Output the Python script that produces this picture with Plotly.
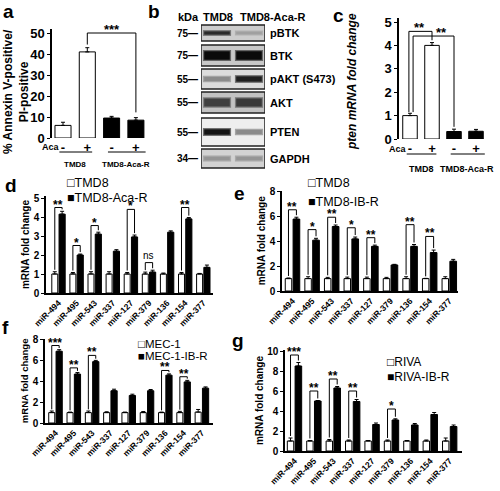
import plotly.graph_objects as go

# ---------------- data ----------------
# panel a: apoptosis
a_aca = ["-", "+", "-", "+"]
a_groups = ["TMD8", "TMD8-Aca-R"]
a_values = [6.0, 41.0, 9.5, 8.5]
a_errors = [1.5, 2.0, 0.8, 1.2]
a_sig = [(1, 3, 50.0, "***")]

# panel b: western blot (relative band intensity per lane)
blot_proteins = ["pBTK", "BTK", "pAKT (S473)", "AKT", "PTEN", "GAPDH"]
blot_kda = ["75", "75", "55", "55", "55", "34"]
blot_lanes = ["TMD8", "TMD8-Aca-R"]
band_tmd8 = [0.85, 1.0, 0.40, 0.75, 0.95, 0.35]
band_acar = [0.30, 1.0, 0.90, 0.78, 0.40, 0.35]

# panel c: pten mRNA
c_aca = ["-", "+", "-", "+"]
c_groups = ["TMD8", "TMD8-Aca-R"]
c_values = [1.0, 4.0, 0.32, 0.33]
c_errors = [0.10, 0.12, 0.10, 0.08]
c_sig = [(0, 1, 4.6, "**"), (0, 2, 4.4, "**")]

mirnas = ["miR-494", "miR-495", "miR-543", "miR-337", "miR-127",
          "miR-379", "miR-136", "miR-154", "miR-377"]

# panel d
d_names = ["TMD8", "TMD8-Aca-R"]
d_par = [1.0, 1.0, 1.0, 1.0, 1.0, 1.0, 1.0, 1.0, 1.0]
d_par_err = [0.12, 0.08, 0.12, 0.12, 0.08, 0.10, 0.05, 0.08, 0.03]
d_res = [4.15, 2.0, 3.1, 2.2, 2.95, 1.1, 3.2, 3.9, 1.35]
d_res_err = [0.15, 0.05, 0.10, 0.08, 0.10, 0.10, 0.07, 0.07, 0.12]
d_sig = [(0, 4.5, "**"), (1, 2.5, "*"), (2, 3.55, "*"), (4, 4.4, "*"),
         (5, 1.6, "ns"), (7, 4.5, "**")]

# panel e
e_names = ["TMD8", "TMD8-IB-R"]
e_par = [1.0, 1.0, 1.0, 1.0, 1.0, 1.0, 1.0, 1.0, 1.0]
e_par_err = [0.05, 0.15, 0.10, 0.12, 0.12, 0.10, 0.15, 0.02, 0.15]
e_res = [5.8, 4.1, 5.2, 4.2, 3.6, 2.1, 3.6, 3.1, 2.4]
e_res_err = [0.15, 0.15, 0.12, 0.15, 0.10, 0.05, 0.15, 0.20, 0.15]
e_sig = [(0, 6.55, "**"), (1, 4.95, "*"), (2, 5.95, "**"), (3, 5.1, "*"),
         (4, 4.3, "**"), (6, 5.35, "**"), (7, 4.4, "**")]

# panel f
f_names = ["MEC-1", "MEC-1-IB-R"]
f_par = [1.0, 1.0, 1.0, 1.0, 1.0, 1.0, 1.0, 1.0, 1.05]
f_par_err = [0.15, 0.05, 0.15, 0.08, 0.05, 0.10, 0.05, 0.12, 0.25]
f_res = [6.9, 4.7, 5.9, 3.1, 2.65, 3.1, 4.6, 3.95, 3.35]
f_res_err = [0.15, 0.15, 0.12, 0.15, 0.12, 0.12, 0.12, 0.15, 0.12]
f_sig = [(0, 7.45, "***"), (1, 5.3, "**"), (2, 6.5, "**"),
         (6, 5.05, "**"), (7, 4.45, "**")]

# panel g
g_names = ["RIVA", "RIVA-IB-R"]
g_par = [1.0, 1.0, 1.0, 1.0, 1.0, 1.0, 1.0, 1.0, 1.0]
g_par_err = [0.30, 0.05, 0.15, 0.10, 0.05, 0.10, 0.05, 0.10, 0.30]
g_res = [8.5, 5.0, 6.3, 4.95, 2.65, 3.1, 2.6, 3.65, 2.45]
g_res_err = [0.35, 0.05, 0.15, 0.20, 0.15, 0.12, 0.15, 0.20, 0.15]
g_sig = [(0, 9.6, "***"), (1, 6.0, "**"), (2, 7.2, "**"), (3, 6.0, "**"),
         (5, 4.2, "*")]

# ---------------- layout helpers ----------------
W, H = 500, 491
FONT = "Arial, 'Liberation Sans', sans-serif"


def fx(p):
    return p / W


def fy(p):
    return 1 - p / H


def axkey(n, k):
    return f"{k}axis" if n == 1 else f"{k}axis{n}"


def axref(n, k):
    return k if n == 1 else f"{k}{n}"


fig = go.Figure()
layout = dict(width=W, height=H, margin=dict(l=0, r=0, t=0, b=0),
              paper_bgcolor="white", plot_bgcolor="white", showlegend=False,
              barmode="overlay", font=dict(family=FONT, color="black"))
annotations = []
shapes = []


def txt(text, x, y, size, bold=True, xanchor="center", yanchor="middle", angle=0):
    annotations.append(dict(text=text, x=fx(x), y=fy(y), xref="paper",
                            yref="paper", showarrow=False, xanchor=xanchor,
                            yanchor=yanchor, textangle=angle,
                            font=dict(family=FONT, size=size, color="black",
                                      weight="bold" if bold else "normal")))


def yaxis_cfg(ybot, ppu, ymax, dtick, size, title=None, tsize=10, standoff=2):
    cfg = dict(domain=[fy(ybot), fy(ybot - ppu * ymax)], range=[0, ymax],
               tickmode="linear", tick0=0, dtick=dtick, showticklabels=True,
               showline=True, linecolor="black", linewidth=1.5,
               ticks="outside", ticklen=3, tickwidth=1, tickcolor="black",
               showgrid=False, zeroline=False, automargin=False,
               tickfont=dict(family=FONT, size=size, weight="bold", color="black"))
    if title:
        cfg["title"] = dict(text=title, standoff=standoff,
                            font=dict(family=FONT, size=tsize, weight="bold"))
    return cfg


def err(vals):
    return dict(type="data", array=vals, arrayminus=[0] * len(vals),
                symmetric=False, color="black", thickness=1, width=2)


def bracket(n, xl, xr, yl, yr, top, label, size):
    fig.add_trace(go.Scatter(x=[xl, xl, xr, xr], y=[yl, top, top, yr],
                             mode="lines", line=dict(color="black", width=1),
                             xaxis=axref(n, "x"), yaxis=axref(n, "y"),
                             cliponaxis=False, hoverinfo="skip"))
    if not label:
        return
    star = "*" in label
    annotations.append(dict(text=label, x=(xl + xr) / 2, y=top,
                            xref=axref(n, "x"), yref=axref(n, "y"),
                            showarrow=False, yanchor="bottom",
                            yshift=-6 if star else 0,
                            font=dict(family=FONT, size=size if star else size - 2,
                                      weight="bold" if star else "normal")))


# ---------------- panel a & c (simple 4-bar panels) ----------------
def simple_panel(n, values, errors, aca, groups, geom, ycfg):
    x0, x1, c0, sp, tsize, line_y, grp_y, gsize = geom
    xs = list(range(len(values)))
    cols = ["white", "white", "black", "black"]
    fig.add_trace(go.Bar(x=xs, y=values, width=0.66, xaxis=axref(n, "x"),
                         yaxis=axref(n, "y"),
                         marker=dict(color=cols, line=dict(color="black", width=1)),
                         error_y=err(errors)))
    layout[axkey(n, "x")] = dict(domain=[fx(x0), fx(x1)],
                                 range=[-(c0 - x0) / sp, (x1 - c0) / sp],
                                 showline=False, showgrid=False, zeroline=False,
                                 tickvals=xs, ticktext=aca, ticks="",
                                 anchor=axref(n, "y"), automargin=False,
                                 tickfont=dict(family=FONT, size=tsize, weight="bold"))
    ycfg["anchor"] = axref(n, "x")
    layout[axkey(n, "y")] = ycfg
    for gi, g in enumerate(groups):
        xa, xb = 2 * gi - 0.15, 2 * gi + 1.2 + 0.2 * gi
        shapes.append(dict(type="line", xref=axref(n, "x"), yref="paper",
                           x0=xa, x1=xb, y0=fy(line_y), y1=fy(line_y),
                           line=dict(color="black", width=1)))
        annotations.append(dict(text=g, x=2 * gi + 0.5 + 0.1 * gi, y=fy(grp_y),
                                xref=axref(n, "x"), yref="paper", showarrow=False,
                                font=dict(family=FONT, size=gsize, weight="bold")))


simple_panel(1, a_values, a_errors, a_aca, a_groups,
             (52, 150, 63, 24.3, 13, 152, 158, 8),
             yaxis_cfg(138, 2.1, 52, 10, 13))
for (i, j, top, lab) in a_sig:
    bracket(1, i, j, a_values[i] + a_errors[i] + 1.5, a_values[j] + a_errors[j] + 2.5,
            top, lab, 13)

simple_panel(3, c_values, c_errors, c_aca, c_groups,
             (399, 487, 410, 22, 13, 154, 162, 9),
             yaxis_cfg(139, 23.4, 5.15, 1, 13))
c_off = [-0.05, 0.14]
c_lab_x = [0.45, 1.45]
for k, (i, j, top, lab) in enumerate(c_sig):
    xl = i + c_off[k]
    bracket(3, xl, j, c_values[i] + c_errors[i] + 0.05, c_values[j] + c_errors[j] + 0.1,
            top, "", 13)
    annotations.append(dict(text=lab, x=c_lab_x[k], y=top,
                            xref="x3", yref="y3", showarrow=False, yanchor="bottom",
                            yshift=-6, font=dict(family=FONT, size=13, weight="bold")))

txt("% Annexin V-positive/<br>PI-positive", 16, 92, 12, angle=-90)
txt("Aca", 51, 147, 9)
txt("<i>pten mRNA fold change</i>", 352, 82, 12, angle=-90)
txt("Aca", 398, 149, 9)

# ---------------- panel b (western blot) ----------------
ROW_Y = [33, 55.5, 79, 102.5, 132, 158.5]
ROW_H = [16, 21, 20, 21, 28, 19]
BAND_T = [3.5, 8.5, 5.5, 9, 5.5, 5]
BG = ["#cdcdcd", "#c8c8c8", "#dcdcdc", "#c2c2c2", "#eeeeee", "#d2d2d2"]
layout["xaxis2"] = dict(domain=[fx(201), fx(265)], range=[-0.5, 1.5], visible=False,
                        anchor="y2")
layout["yaxis2"] = dict(domain=[fy(172), fy(0)], range=[172, 0], visible=False,
                        anchor="x2")
for r, prot in enumerate(blot_proteins):
    yc = ROW_Y[r]
    shapes.append(dict(type="rect", xref="x2", yref="y2", x0=-0.5, x1=1.5,
                       y0=yc - ROW_H[r] / 2, y1=yc + ROW_H[r] / 2, layer="below",
                       fillcolor=BG[r], line=dict(color="#222222", width=1.5)))
    for lane, inten in enumerate([band_tmd8[r], band_acar[r]]):
        g = int(225 - 215 * inten)
        th = BAND_T[r] * (0.55 + 0.45 * inten)
        halo = int((g + 190) / 2)
        fig.add_trace(go.Scatter(x=[lane - 0.44, lane + 0.44], y=[yc, yc], mode="lines",
                                 xaxis="x2", yaxis="y2", hoverinfo="skip",
                                 line=dict(color=f"rgb({halo},{halo},{halo})", width=th + 2.5)))
        fig.add_trace(go.Scatter(x=[lane - 0.40, lane + 0.40], y=[yc, yc], mode="lines",
                                 xaxis="x2", yaxis="y2", hoverinfo="skip",
                                 line=dict(color=f"rgb({g},{g},{g})", width=th)))
    annotations.append(dict(text=prot, x=1.5, y=yc, xref="x2", yref="y2",
                            xanchor="left", xshift=3, showarrow=False,
                            font=dict(family=FONT, size=11, weight="bold")))
    annotations.append(dict(text=blot_kda[r] + "\u2014", x=-0.5, y=yc, xref="x2",
                            yref="y2", xanchor="right", xshift=-1, showarrow=False,
                            font=dict(family=FONT, size=10, weight="bold")))
txt("kDa", 188, 17, 11)
txt(blot_lanes[0], 218, 17, 11)
txt(blot_lanes[1], 238, 17, 11, xanchor="left")

# ---------------- panels d-g (grouped miRNA panels) ----------------
W_OFF, W_W = -0.37, 0.33
B_OFF, B_W = 0.03, 0.34


def mir_panel(n, par, par_err, res, res_err, sig, names, geom, leg, tsize):
    x0, x1, ybot, ppu, ymax, dtick, c0, sp = geom
    xs = list(range(len(mirnas)))
    fig.add_trace(go.Bar(x=xs, y=par, offset=W_OFF, width=W_W, name=names[0],
                         xaxis=axref(n, "x"), yaxis=axref(n, "y"),
                         marker=dict(color="white", line=dict(color="black", width=1)),
                         error_y=err(par_err)))
    fig.add_trace(go.Bar(x=xs, y=res, offset=B_OFF, width=B_W, name=names[1],
                         xaxis=axref(n, "x"), yaxis=axref(n, "y"),
                         marker=dict(color="black", line=dict(color="black", width=1)),
                         error_y=err(res_err)))
    layout[axkey(n, "x")] = dict(domain=[fx(x0), fx(x1)],
                                 range=[-(c0 - x0) / sp, (x1 - c0) / sp],
                                 showline=True, linecolor="black", linewidth=1.5,
                                 showgrid=False, zeroline=False, tickvals=xs,
                                 ticktext=mirnas, ticks="", tickangle=-45,
                                 anchor=axref(n, "y"), automargin=False,
                                 tickfont=dict(family=FONT, size=8.5, weight="bold"))
    ycfg = yaxis_cfg(ybot, ppu, ymax, dtick, 10, title="mRNA fold change",
                     tsize=tsize, standoff=2)
    ycfg["anchor"] = axref(n, "x")
    layout[axkey(n, "y")] = ycfg
    pad = 0.02 * ymax
    for (i, top, lab) in sig:
        xl = i + W_OFF + W_W / 2
        xr = i + B_OFF + B_W / 2
        bracket(n, xl, xr, par[i] + par_err[i] + pad, res[i] + res_err[i] + pad,
                top, lab, 12)
    lx, ly1, ly2, lsize = leg
    txt("\u25a1" + names[0], lx, ly1, lsize, bold=False, xanchor="left")
    txt("\u25a0" + names[1], lx, ly2, lsize, bold=False, xanchor="left")


mir_panel(4, d_par, d_par_err, d_res, d_res_err, d_sig, d_names,
          (46, 213, 293, 19, 5.1, 1, 58.5, 18.1), (65, 183, 198, 12.5), 10)
mir_panel(5, e_par, e_par_err, e_res, e_res_err, e_sig, e_names,
          (282, 458, 291, 12.4, 8.1, 2, 292.5, 19.6), (306, 183, 202, 12.5), 10)
mir_panel(6, f_par, f_par_err, f_res, f_res_err, f_sig, f_names,
          (45, 213, 423, 10.4, 8.1, 2, 55.5, 18.3), (136, 344, 356, 11.5), 9.5)
mir_panel(7, g_par, g_par_err, g_res, g_res_err, g_sig, g_names,
          (285, 462, 451, 10, 10.1, 2, 294.5, 19.4), (385, 362, 377, 12), 10)

# ---------------- panel letters ----------------
for letter, x, y in [("a", 8, 11), ("b", 154, 11), ("c", 338, 16), ("d", 11, 185),
                     ("e", 239, 193), ("f", 5, 327), ("g", 238, 340)]:
    txt(letter, x, y, 19)

layout["annotations"] = annotations
layout["shapes"] = shapes
fig.update_layout(**layout)
fig.write_html("out.html", config={"displayModeBar": False},
               post_script="document.body.style.margin='0';"
                           "document.body.style.overflow='hidden';")
